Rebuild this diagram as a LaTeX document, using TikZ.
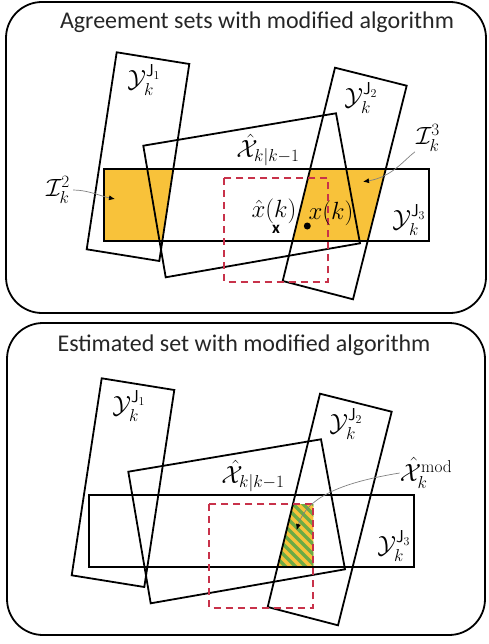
\documentclass[tikz,border=0pt]{standalone}
\usepackage{amsmath,amssymb}
\usepackage[no-math]{fontspec}
\setmainfont{Carlito}
\usepackage{xcolor}
\usepackage{tikz}
\usetikzlibrary{arrows.meta}
\definecolor{agOrange}{HTML}{F8C23A}
\definecolor{agGreen}{HTML}{6DAA45}
\definecolor{agRed}{HTML}{C8324A}
\definecolor{agGray}{HTML}{808080}
\tikzset{
  ag-panel/.style={draw=black, line width=1.8pt, rounded corners=36pt},
  ag-title/.style={font=\fontsize{24}{28}\selectfont, text=black!85, inner sep=0pt},
  ag-set/.style={draw=black, line width=1.8pt, line join=miter},
  ag-guess/.style={draw=agRed, line width=1.8pt, dash pattern=on 7pt off 5pt},
  ag-fill/.style={fill=agOrange},
  ag-math/.style={font=\fontsize{26}{30}\selectfont, inner sep=0pt},
  ag-pointer/.style={draw=agGray, line width=0.7pt,
    -{Latex[length=6pt,width=5pt,black]}},
  ag-stripe/.style={draw=agGreen, line width=3.5pt},
  ag-cross/.style={font=\fontsize{17}{19}\selectfont\bfseries, inner sep=0pt},
}
% corner points of the measurement sets, the prediction and the guess box
\newcommand{\agcorners}{%
  \coordinate (y1a) at (116.7,52.3);  \coordinate (y1b) at (189.3,64);
  \coordinate (y1c) at (159.3,261);   \coordinate (y1d) at (86.7,249.3);
  \coordinate (y2a) at (335,67.7);    \coordinate (y2b) at (406.7,85.7);
  \coordinate (y2c) at (353,299.3);   \coordinate (y2d) at (282.7,281);
  \coordinate (xpa) at (143.3,145.7); \coordinate (xpb) at (336,113.3);
  \coordinate (xpc) at (360,243.3);   \coordinate (xpd) at (165.7,277.3);
  \coordinate (y3a) at (104.3,169);   \coordinate (y3c) at (429,241);
  \coordinate (gsa) at (224,178.3);   \coordinate (gsc) at (328.3,281.7);
}
\newcommand{\agoutlines}{%
  \draw[ag-set] (y1a) -- (y1b) -- (y1c) -- (y1d) -- cycle;
  \draw[ag-set] (y2a) -- (y2b) -- (y2c) -- (y2d) -- cycle;
  \draw[ag-set] (xpa) -- (xpb) -- (xpc) -- (xpd) -- cycle;
  \draw[ag-set] (y3a) rectangle (y3c);
  \draw[ag-guess] (gsa) rectangle (gsc);
  \node[ag-math] (lblY1) at (144,80)  {$\mathcal{Y}_k^{\mathsf{J}_1}$};
  \node[ag-math] (lblY2) at (361,98)  {$\mathcal{Y}_k^{\mathsf{J}_2}$};
  \node[ag-math] (lblY3) at (409,220) {$\mathcal{Y}_k^{\mathsf{J}_3}$};
  \node[ag-math] (lblXp) at (268,150) {$\hat{\mathcal{X}}_{k|k-1}$};
}

\begin{document}
\begin{tikzpicture}[x=1pt, y=-1pt]
  \useasboundingbox (0,0) rectangle (488,644);

  % upper panel: agreement sets
  \draw[ag-panel] (6,2) rectangle (486,313);
  \node[ag-title] (ttlTop) at (257,22) {Agreement sets with modified algorithm};
  \begin{scope}
    \agcorners
    \begin{scope}
      \clip (y1a) -- (y1b) -- (y1c) -- (y1d) -- cycle;
      \fill[ag-fill] (y3a) rectangle (y3c);
    \end{scope}
    \begin{scope}
      \clip (y2a) -- (y2b) -- (y2c) -- (y2d) -- cycle;
      \fill[ag-fill] (y3a) rectangle (y3c);
    \end{scope}
    \agoutlines
    \node[ag-math] (lblI2) at (58,190)  {$\mathcal{I}_k^2$};
    \node[ag-math] (lblI3) at (428,138) {$\mathcal{I}_k^3$};
    \node[ag-math] (lblXh) at (274,211) {$\hat{x}(k)$};
    \node[ag-math] (lblXt) at (331,213) {$x(k)$};
    \node[ag-cross] (ptXh) at (276,229) {x};
    \fill (307.3,226) circle (3.5) coordinate (ptXt);
    \coordinate (i2tip) at (115,199);
    \coordinate (i3tip) at (363,181.7);
    \draw[ag-pointer] ([xshift=3pt]lblI2.east) .. controls (88,190) and (100,196) .. (i2tip);
    \draw[ag-pointer] ([xshift=-1pt]lblI3.south west) .. controls (404,160) and (392,177) .. (i3tip);
  \end{scope}

  % lower panel: estimated set
  \draw[ag-panel] (7,323) rectangle (485,635);
  \node[ag-title] (ttlBot) at (244,345) {Estimated set with modified algorithm};
  \begin{scope}[shift={(-15,326)}]
    \agcorners
    \begin{scope}
      \clip (y2a) -- (y2b) -- (y2c) -- (y2d) -- cycle;
      \clip (gsa) rectangle (gsc);
      \clip (y3a) rectangle (y3c);
      \fill[ag-fill] (y3a) rectangle (y3c);
      \foreach \s in {-120,-110,...,120}
        \draw[ag-stripe] (250+\s,150) -- (370+\s,270);
    \end{scope}
    \agoutlines
    \node[ag-math] (lblXm) at (441,147) {$\hat{\mathcal{X}}_k^{\mathrm{mod}}$};
    \coordinate (xmtip) at (311.7,204);
    \draw[ag-pointer] (lblXm.west) .. controls (360,156) and (322,170) .. (xmtip);
  \end{scope}
\end{tikzpicture}
\end{document}
